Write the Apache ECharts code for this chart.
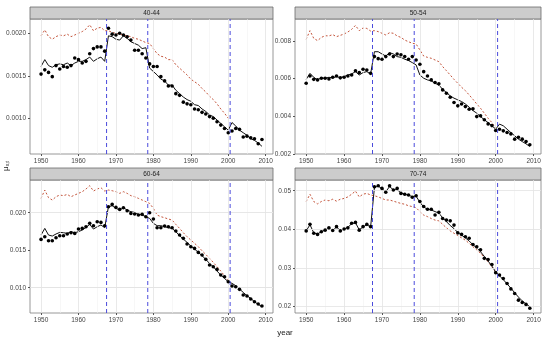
<!DOCTYPE html>
<html><head><meta charset="utf-8">
<script src="https://cdn.jsdelivr.net/npm/echarts@6/dist/echarts.min.js"></script>
<style>html,body{margin:0;padding:0;background:#fff}#c{width:550px;height:341px}</style>
</head><body><div id="c"></div>
<script>
const years = [1950,1951,1952,1953,1954,1955,1956,1957,1958,1959,1960,1961,1962,1963,1964,1965,1966,1967,1968,1969,1970,1971,1972,1973,1974,1975,1976,1977,1978,1979,1980,1981,1982,1983,1984,1985,1986,1987,1988,1989,1990,1991,1992,1993,1994,1995,1996,1997,1998,1999,2000,2001,2002,2003,2004,2005,2006,2007,2008,2009];
const panelNames = ['40-44','50-54','60-64','70-74'];
const xTicks = [1950,1960,1970,1980,1990,2000,2010];
const xMinor = [1955,1965,1975,1985,1995,2005];
const breakYears = [1967.5,1978.5,2000.5];

// 40-44
const obs1 = [0.00152,0.00157,0.00154,0.00149,0.00162,0.00158,0.00161,0.00160,0.00162,0.00171,0.00169,0.00165,0.00167,0.00176,0.00182,0.00184,0.00184,0.00179,0.00206,0.00199,0.00198,0.00200,0.00198,0.00196,0.00192,0.00180,0.00180,0.00176,0.00171,0.00164,0.00161,0.00161,0.00149,0.00144,0.00138,0.00138,0.00129,0.00127,0.00119,0.00117,0.00116,0.00111,0.00110,0.00107,0.00105,0.00102,0.00100,0.00096,0.00092,0.00088,0.00083,0.00085,0.00088,0.00087,0.00078,0.00079,0.00077,0.00076,0.00070,0.00075];
const fit1 = [0.00161,0.00169,0.00162,0.00160,0.00163,0.00164,0.00163,0.00165,0.00162,0.00165,0.00167,0.00167,0.00169,0.00172,0.00167,0.00170,0.00172,0.00167,0.00197,0.00196,0.00193,0.00192,0.00197,0.00194,0.00190,0.00188,0.00186,0.00182,0.00183,0.00159,0.00155,0.00151,0.00146,0.00144,0.00139,0.00139,0.00133,0.00129,0.00125,0.00122,0.00120,0.00116,0.00115,0.00111,0.00108,0.00104,0.00102,0.00098,0.00094,0.00090,0.00086,0.00095,0.00091,0.00086,0.00083,0.00080,0.00076,0.00074,0.00071,0.00067];
const alt1 = [0.00197,0.00204,0.00196,0.00193,0.00196,0.00198,0.00197,0.00199,0.00196,0.00198,0.00200,0.00202,0.00205,0.00210,0.00203,0.00206,0.00207,0.00203,0.00203,0.00201,0.00200,0.00199,0.00198,0.00197,0.00196,0.00194,0.00193,0.00191,0.00189,0.00188,0.00182,0.00176,0.00173,0.00172,0.00169,0.00169,0.00163,0.00159,0.00155,0.00151,0.00146,0.00143,0.00140,0.00135,0.00131,0.00126,0.00122,0.00117,0.00111,0.00106,0.00100];
// 50-54
const obs2 = [0.00575,0.00614,0.00596,0.00593,0.00602,0.00602,0.00598,0.00607,0.00614,0.00604,0.00607,0.00614,0.00619,0.00642,0.00632,0.00650,0.00646,0.00628,0.00717,0.00706,0.00703,0.00717,0.00731,0.00717,0.00731,0.00727,0.00717,0.00703,0.00717,0.00699,0.00676,0.00637,0.00614,0.00593,0.00579,0.00572,0.00540,0.00522,0.00501,0.00473,0.00455,0.00465,0.00451,0.00437,0.00439,0.00398,0.00402,0.00381,0.00359,0.00350,0.00324,0.00331,0.00322,0.00313,0.00306,0.00278,0.00288,0.00278,0.00265,0.00248];
const fit2 = [0.00596,0.00628,0.00607,0.00593,0.00604,0.00602,0.00607,0.00604,0.00611,0.00605,0.00611,0.00619,0.00625,0.00637,0.00619,0.00632,0.00637,0.00625,0.00743,0.00743,0.00731,0.00720,0.00738,0.00731,0.00717,0.00713,0.00703,0.00696,0.00685,0.00673,0.00619,0.00602,0.00593,0.00588,0.00575,0.00566,0.00543,0.00526,0.00508,0.00496,0.00487,0.00478,0.00465,0.00448,0.00430,0.00416,0.00398,0.00381,0.00366,0.00349,0.00331,0.00358,0.00349,0.00331,0.00313,0.00296,0.00278,0.00265,0.00253,0.00239];
const alt2 = [0.00809,0.00855,0.00814,0.00802,0.00819,0.00828,0.00827,0.00834,0.00823,0.00830,0.00837,0.00848,0.00862,0.00883,0.00855,0.00869,0.00867,0.00853,0.00855,0.00850,0.00841,0.00832,0.00844,0.00841,0.00827,0.00819,0.00805,0.00796,0.00788,0.00784,0.00752,0.00720,0.00713,0.00708,0.00699,0.00690,0.00664,0.00642,0.00619,0.00596,0.00575,0.00554,0.00536,0.00513,0.00490,0.00465,0.00442,0.00416,0.00389,0.00366,0.00336];
// 60-64
const obs3 = [0.01644,0.01680,0.01627,0.01627,0.01667,0.01693,0.01693,0.01716,0.01733,0.01724,0.01782,0.01791,0.01813,0.01858,0.01827,0.01880,0.01871,0.01827,0.02080,0.02111,0.02071,0.02044,0.02067,0.02027,0.01991,0.01982,0.01969,0.01978,0.01947,0.02000,0.01916,0.01800,0.01800,0.01822,0.01813,0.01800,0.01756,0.01702,0.01658,0.01582,0.01547,0.01524,0.01471,0.01436,0.01378,0.01302,0.01280,0.01244,0.01169,0.01147,0.01080,0.01022,0.01013,0.00978,0.00902,0.00889,0.00849,0.00813,0.00782,0.00756];
const fit3 = [0.01702,0.01791,0.01702,0.01689,0.01716,0.01738,0.01733,0.01724,0.01747,0.01733,0.01747,0.01769,0.01804,0.01844,0.01782,0.01813,0.01836,0.01800,0.02080,0.02093,0.02058,0.02036,0.02067,0.02036,0.02013,0.02004,0.01978,0.01969,0.01947,0.01924,0.01858,0.01827,0.01827,0.01813,0.01800,0.01791,0.01747,0.01693,0.01649,0.01604,0.01556,0.01516,0.01471,0.01427,0.01378,0.01324,0.01280,0.01222,0.01169,0.01124,0.01080,0.01058,0.01027,0.00982,0.00938,0.00893,0.00858,0.00813,0.00778,0.00747];
const alt3 = [0.02191,0.02302,0.02200,0.02169,0.02213,0.02236,0.02227,0.02244,0.02213,0.02236,0.02258,0.02280,0.02316,0.02360,0.02289,0.02316,0.02333,0.02289,0.02302,0.02293,0.02280,0.02258,0.02280,0.02258,0.02227,0.02213,0.02191,0.02169,0.02147,0.02124,0.02058,0.01969,0.01947,0.01933,0.01916,0.01902,0.01844,0.01791,0.01733,0.01680,0.01636,0.01591,0.01547,0.01493,0.01444,0.01391,0.01338,0.01280,0.01222,0.01160,0.01102];
// 70-74
const obs4 = [0.0396,0.0413,0.0390,0.0387,0.0394,0.0398,0.0404,0.0397,0.0407,0.0396,0.0401,0.0404,0.0416,0.0418,0.0398,0.0407,0.0413,0.0407,0.0510,0.0513,0.0506,0.0496,0.0513,0.0502,0.0506,0.0493,0.0491,0.0489,0.0483,0.0487,0.0472,0.0459,0.0452,0.0452,0.0437,0.0444,0.0428,0.0424,0.0422,0.0411,0.0391,0.0387,0.0381,0.0377,0.0361,0.0355,0.0347,0.0325,0.0322,0.0309,0.0288,0.0282,0.0273,0.0260,0.0246,0.0234,0.0217,0.0211,0.0206,0.0196];
const fit4 = [0.0396,0.0412,0.0391,0.0388,0.0394,0.0398,0.0403,0.0397,0.0406,0.0397,0.0401,0.0405,0.0415,0.0417,0.0399,0.0406,0.0412,0.0406,0.0508,0.0512,0.0505,0.0497,0.0511,0.0502,0.0503,0.0494,0.0491,0.0488,0.0485,0.0486,0.0470,0.0458,0.0452,0.0450,0.0446,0.0442,0.0430,0.0420,0.0410,0.0402,0.0392,0.0385,0.0378,0.0370,0.0360,0.0352,0.0342,0.0330,0.0318,0.0305,0.0290,0.0280,0.0270,0.0259,0.0248,0.0236,0.0225,0.0215,0.0207,0.0200];
const alt4 = [0.0472,0.0491,0.0472,0.0466,0.0472,0.0476,0.0474,0.0478,0.0473,0.0478,0.0480,0.0484,0.0491,0.0499,0.0484,0.0491,0.0493,0.0489,0.0487,0.0484,0.0480,0.0476,0.0476,0.0473,0.0470,0.0467,0.0465,0.0461,0.0459,0.0456,0.0446,0.0437,0.0433,0.0428,0.0424,0.0422,0.0413,0.0404,0.0396,0.0390,0.0384,0.0378,0.0372,0.0364,0.0355,0.0347,0.0338,0.0327,0.0316,0.0303,0.0289];

const yTicks = [[0.0010,0.0015,0.0020],[0.002,0.004,0.006,0.008],[0.010,0.015,0.020],[0.02,0.03,0.04,0.05]];
const yTickLabels = [['0.0010','0.0015','0.0020'],['0.002','0.004','0.006','0.008'],['0.010','0.015','0.020'],['0.02','0.03','0.04','0.05']];
const yMinor = [[0.00075,0.00125,0.00175],[0.003,0.005,0.007,0.009],[0.0075,0.0125,0.0175,0.0225],[0.025,0.035,0.045]];
const yRange = [[0.00058,0.002168],[0.00199,0.00917],[0.00663,0.02436],[0.01837,0.05277]];

const obsAll=[obs1,obs2,obs3,obs4], fitAll=[fit1,fit2,fit3,fit4], altAll=[alt1,alt2,alt3,alt4];

const grids = [
  {left:30, top:19, width:243, height:135},
  {left:295, top:19, width:246, height:135},
  {left:30, top:180, width:243, height:133},
  {left:295, top:180, width:246, height:133}
];
const FONT = 'Liberation Sans, Arial, sans-serif';
const pairs = (arr) => arr.map((v,i)=>[years[i], v]);
const BLUE = '#4b4bdc';

const xAxes=[], yAxes=[], series=[], graphics=[];
grids.forEach((g,i)=>{
  xAxes.push({type:'value', gridIndex:i, min:1947.05, max:2011.95,
    axisLine:{show:false}, splitLine:{show:false},
    axisTick:{show:true, length:2, lineStyle:{color:'#555'}, customValues:xTicks},
    axisLabel:{customValues:xTicks, fontSize:6.5, color:'#444', fontFamily:FONT, margin:4,
      formatter:(v)=>String(Math.round(v))}});
  yAxes.push({type:'value', gridIndex:i, min:yRange[i][0], max:yRange[i][1],
    axisLine:{show:false}, splitLine:{show:false},
    axisTick:{show:true, length:2, lineStyle:{color:'#555'}, customValues:yTicks[i]},
    axisLabel:{customValues:yTicks[i], fontSize:6.5, color:'#444', fontFamily:FONT, margin:4,
      formatter:(v)=>{const k=yTicks[i].findIndex(t=>Math.abs(t-v)<1e-9); return k>=0?yTickLabels[i][k]:'';}}});
  const gl = [];
  xMinor.forEach(v=>gl.push({xAxis:v, lineStyle:{color:'#f2f2f2',width:0.6,type:'solid'}}));
  yMinor[i].forEach(v=>{ if(v>yRange[i][0]&&v<yRange[i][1]) gl.push({yAxis:v, lineStyle:{color:'#f2f2f2',width:0.6,type:'solid'}}); });
  xTicks.forEach(v=>gl.push({xAxis:v, lineStyle:{color:'#e3e3e3',width:0.8,type:'solid'}}));
  yTicks[i].forEach(v=>gl.push({yAxis:v, lineStyle:{color:'#e3e3e3',width:0.8,type:'solid'}}));
  series.push({type:'line', xAxisIndex:i, yAxisIndex:i, data:[], z:1, silent:true,
    markLine:{silent:true, symbol:'none', label:{show:false}, animation:false, data:gl}});
  series.push({type:'line', xAxisIndex:i, yAxisIndex:i, data:pairs(altAll[i]), z:3, symbol:'none',
    lineStyle:{color:'#c4553c', width:1, type:[2,2]}, animation:false});
  series.push({type:'line', xAxisIndex:i, yAxisIndex:i, data:pairs(fitAll[i]), z:4, symbol:'none',
    lineStyle:{color:'#111', width:1}, animation:false});
  series.push({type:'scatter', xAxisIndex:i, yAxisIndex:i, data:pairs(obsAll[i]), z:5, symbolSize:3.6,
    itemStyle:{color:'#000', opacity:1}, animation:false});
  breakYears.forEach(b=>{
    series.push({type:'line', xAxisIndex:i, yAxisIndex:i, z:6, silent:true, symbol:'none', animation:false,
      data:[[b, yRange[i][0]],[b, yRange[i][1]]],
      lineStyle:{color:BLUE, width:1, type:[4,3]}});
  });
  graphics.push({type:'rect', shape:{x:g.left, y:g.top-12, width:g.width, height:12},
    style:{fill:'#cccccc', stroke:'#6b6b6b', lineWidth:0.8}});
  graphics.push({type:'text', x:g.left+g.width/2, y:g.top-6,
    style:{text:panelNames[i], fill:'#222', font:'6.5px '+FONT, align:'center', verticalAlign:'middle'}});
});
graphics.push({type:'text', x:285, y:333, style:{text:'year', fill:'#222', font:'8px '+FONT, align:'center', verticalAlign:'middle'}});
graphics.push({type:'text', x:6, y:166, rotation:Math.PI/2,
  style:{text:'μ{s|x,t}', fill:'#222', font:'8px '+FONT, align:'center', verticalAlign:'middle',
    rich:{s:{fontSize:5, fontFamily:FONT, verticalAlign:'bottom', padding:[3,0,0,0]}}}});

const chart = echarts.init(document.getElementById('c'), null, {renderer:'canvas'});
chart.setOption({
  animation:false,
  backgroundColor:'#fff',
  grid: grids.map(g=>Object.assign({show:true, borderColor:'#7f7f7f', borderWidth:0.8, backgroundColor:'transparent', containLabel:false}, g)),
  xAxis:xAxes, yAxis:yAxes, series:series, graphic:graphics
});
</script></body></html>
